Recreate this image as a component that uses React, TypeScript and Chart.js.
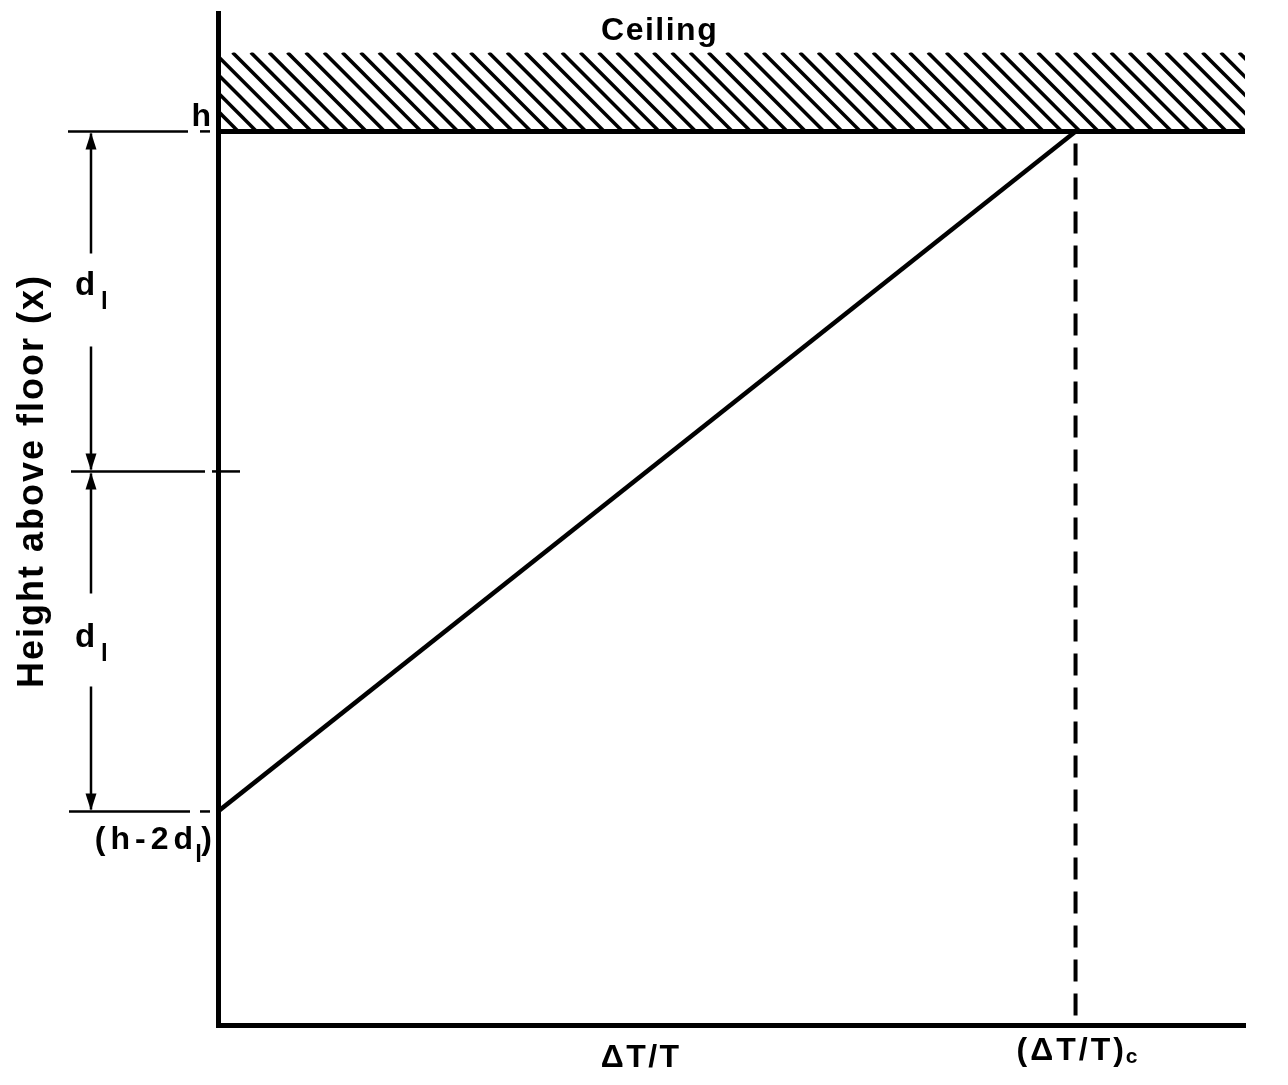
import React, { useEffect, useRef } from "react";
import { Chart, registerables } from "chart.js";

Chart.register(...registerables);

// ---------- data ----------
const xRange = [0, 10];
const yRange = [0, 10];
// h, h - d_l, h - 2d_l
const markerLevels = [8.83, 5.47, 2.11];
// ceiling band: from h up to top of hatched slab
const ceilingBand = [8.83, 9.61];
// temperature-difference profile
const profileX = [0, 8.35];
const profileY = [2.11, 8.83];
const criticalX = 8.35;
// x-axis label positions & texts
const xLabelValues = [4.12, 8.35];
const xLabelTexts = ["ΔT/T", "(ΔT/T)"];
const xLabelSub = ["", "c"];
const ceilingLabelX = 4.3;
const ceilingLabel = "Ceiling";
const yTitle = "Height above floor (x)";
const hLabel = "h";
const dLabel = ["d", "l"];
const bottomLabel = ["(h-2d", "l", ")"];

const FONT = "'Liberation Sans', Arial, Helvetica, sans-serif";

function text(
  ctx: CanvasRenderingContext2D,
  t: string,
  x: number,
  y: number,
  size: number,
  align: CanvasTextAlign,
  ls: number
) {
  ctx.font = `bold ${size}px ${FONT}`;
  (ctx as any).letterSpacing = `${ls}px`;
  ctx.textAlign = align;
  ctx.textBaseline = "alphabetic";
  ctx.fillText(t, x, y);
}

function width(ctx: CanvasRenderingContext2D, t: string, size: number, ls: number) {
  ctx.font = `bold ${size}px ${FONT}`;
  (ctx as any).letterSpacing = `${ls}px`;
  return ctx.measureText(t).width;
}

function arrow(ctx: CanvasRenderingContext2D, x: number, tip: number, dir: number) {
  // dir = -1 points up, +1 points down
  ctx.beginPath();
  ctx.moveTo(x, tip);
  ctx.lineTo(x - 5.5, tip - dir * 17);
  ctx.lineTo(x + 5.5, tip - dir * 17);
  ctx.closePath();
  ctx.fill();
}

const hatchPlugin = {
  id: "hatch",
  beforeDatasetsDraw(chart: any) {
    const { ctx, scales } = chart;
    const xs = scales.x;
    const ys = scales.y;
    const x1 = xs.getPixelForValue(xRange[0]) + 2;
    const x2 = xs.getPixelForValue(xRange[1]);
    const yTop = ys.getPixelForValue(ceilingBand[1]);
    const yBot = ys.getPixelForValue(ceilingBand[0]);
    ctx.save();
    ctx.beginPath();
    ctx.rect(x1, yTop, x2 - x1, yBot - yTop);
    ctx.clip();
    ctx.strokeStyle = "#000";
    ctx.lineWidth = 3.6;
    const h = yBot - yTop;
    const step = 18.3;
    for (let sx = x1 - h - step; sx < x2 + step; sx += step) {
      ctx.beginPath();
      ctx.moveTo(sx, yTop);
      ctx.lineTo(sx + h, yBot);
      ctx.stroke();
    }
    ctx.restore();
  },
};

const annotations = {
  id: "annotations",
  afterDraw(chart: any) {
    const { ctx, chartArea, scales } = chart;
    const xs = scales.x;
    const ys = scales.y;
    const L = chartArea.left;
    const py = markerLevels.map((v) => ys.getPixelForValue(v));
    ctx.save();
    ctx.fillStyle = "#000";
    ctx.strokeStyle = "#000";
    ctx.lineCap = "butt";

    // horizontal reference lines
    ctx.lineWidth = 2.5;
    const seg = (x1: number, x2: number, yy: number) => {
      ctx.beginPath();
      ctx.moveTo(x1, yy);
      ctx.lineTo(x2, yy);
      ctx.stroke();
    };
    seg(L - 150, L - 30, py[0]);
    seg(L - 18, L - 8, py[0]);
    seg(L - 147, L - 13, py[1]);
    seg(L - 6, L + 22, py[1]);
    seg(L - 149, L - 28, py[2]);
    seg(L - 18, L - 8, py[2]);

    // dimension arrows
    const ax = L - 127;
    ctx.lineWidth = 2.5;
    for (let i = 0; i < 2; i++) {
      const yA = py[i];
      const yB = py[i + 1];
      const mid = (yA + yB) / 2;
      ctx.beginPath();
      ctx.moveTo(ax, yA + 2);
      ctx.lineTo(ax, mid - 48);
      ctx.moveTo(ax, mid + 45);
      ctx.lineTo(ax, yB - 2);
      ctx.stroke();
      arrow(ctx, ax, yA + 1, -1);
      arrow(ctx, ax, yB - 1, 1);
      text(ctx, dLabel[0], L - 143, mid + (i === 0 ? -6 : 6), 33, "left", 0);
      text(ctx, dLabel[1], L - 117, mid + (i === 0 ? 8 : 20), 24, "left", 0);
    }

    // h label
    text(ctx, hLabel, L - 7, py[0] - 5, 32, "right", 0);

    // (h-2d_l) label
    const by = py[2] + 38;
    text(ctx, bottomLabel[2], L - 6, by, 32, "right", 0);
    text(ctx, bottomLabel[1], L - 16, by + 13, 24, "right", 0);
    text(ctx, bottomLabel[0], L - 20, by, 32, "right", 5);

    // Ceiling label
    text(ctx, ceilingLabel, xs.getPixelForValue(ceilingLabelX), 40, 32, "center", 1.5);

    // x labels
    const baseY = chartArea.bottom;
    {
      const w0 = width(ctx, xLabelTexts[0], 32, 2.5);
      const x0 = xs.getPixelForValue(xLabelValues[0]) - w0 / 2;
      text(ctx, xLabelTexts[0], x0, baseY + 42, 32, "left", 2.5);
    }
    {
      const w1 = width(ctx, xLabelTexts[1], 32, 3);
      const w2 = width(ctx, xLabelSub[1], 21, 0);
      const cx = xs.getPixelForValue(xLabelValues[1]);
      const start = cx - (w1 + w2) / 2 + 2;
      text(ctx, xLabelTexts[1], start, baseY + 35, 32, "left", 3);
      text(ctx, xLabelSub[1], start + w1 - 1, baseY + 38, 21, "left", 0);
    }

    // y title
    ctx.save();
    ctx.translate(L - 175, (chartArea.top + chartArea.bottom) / 2 - 38);
    ctx.rotate(-Math.PI / 2);
    text(ctx, yTitle, 0, 0, 36, "center", 2);
    ctx.restore();

    ctx.restore();
  },
};

export default function App() {
  const ref = useRef<HTMLCanvasElement | null>(null);
  useEffect(() => {
    if (!ref.current) return;
    const chart = new Chart(ref.current, {
      type: "line",
      data: {
        datasets: [
          {
            label: "ceiling line",
            data: [
              { x: xRange[0], y: ceilingBand[0] },
              { x: xRange[1], y: ceilingBand[0] },
            ],
            borderWidth: 5,
            borderColor: "#000",
            pointRadius: 0,
            fill: false,
          },
          {
            label: "profile",
            data: profileX.map((v, i) => ({ x: v, y: profileY[i] })),
            borderWidth: 4.5,
            borderColor: "#000",
            pointRadius: 0,
            fill: false,
          },
          {
            label: "critical",
            data: [
              { x: criticalX, y: markerLevels[0] },
              { x: criticalX, y: yRange[0] },
            ],
            borderWidth: 4,
            borderColor: "#000",
            borderDash: [22, 12],
            borderDashOffset: 22,
            pointRadius: 0,
            fill: false,
          },
        ],
      },
      options: {
        animation: false,
        responsive: false,
        events: [],
        layout: {
          autoPadding: false,
          padding: { left: 218, right: 43, top: 13, bottom: 60 },
        },
        plugins: {
          legend: { display: false },
          tooltip: { enabled: false },
        },
        scales: {
          x: {
            type: "linear",
            min: xRange[0],
            max: xRange[1],
            grid: { display: false, drawTicks: false },
            ticks: { display: false },
            border: { display: true, width: 5, color: "#000" },
          },
          y: {
            type: "linear",
            min: yRange[0],
            max: yRange[1],
            grid: { display: false, drawTicks: false },
            ticks: { display: false },
            border: { display: true, width: 5, color: "#000" },
          },
        },
      },
      plugins: [hatchPlugin, annotations],
    });
    return () => chart.destroy();
  }, []);
  return (
    <div style={{ position: "absolute", left: 0, top: 0, width: 1288, height: 1085, background: "#fff" }}>
      <canvas ref={ref} width={1288} height={1085} style={{ display: "block" }} />
    </div>
  );
}
